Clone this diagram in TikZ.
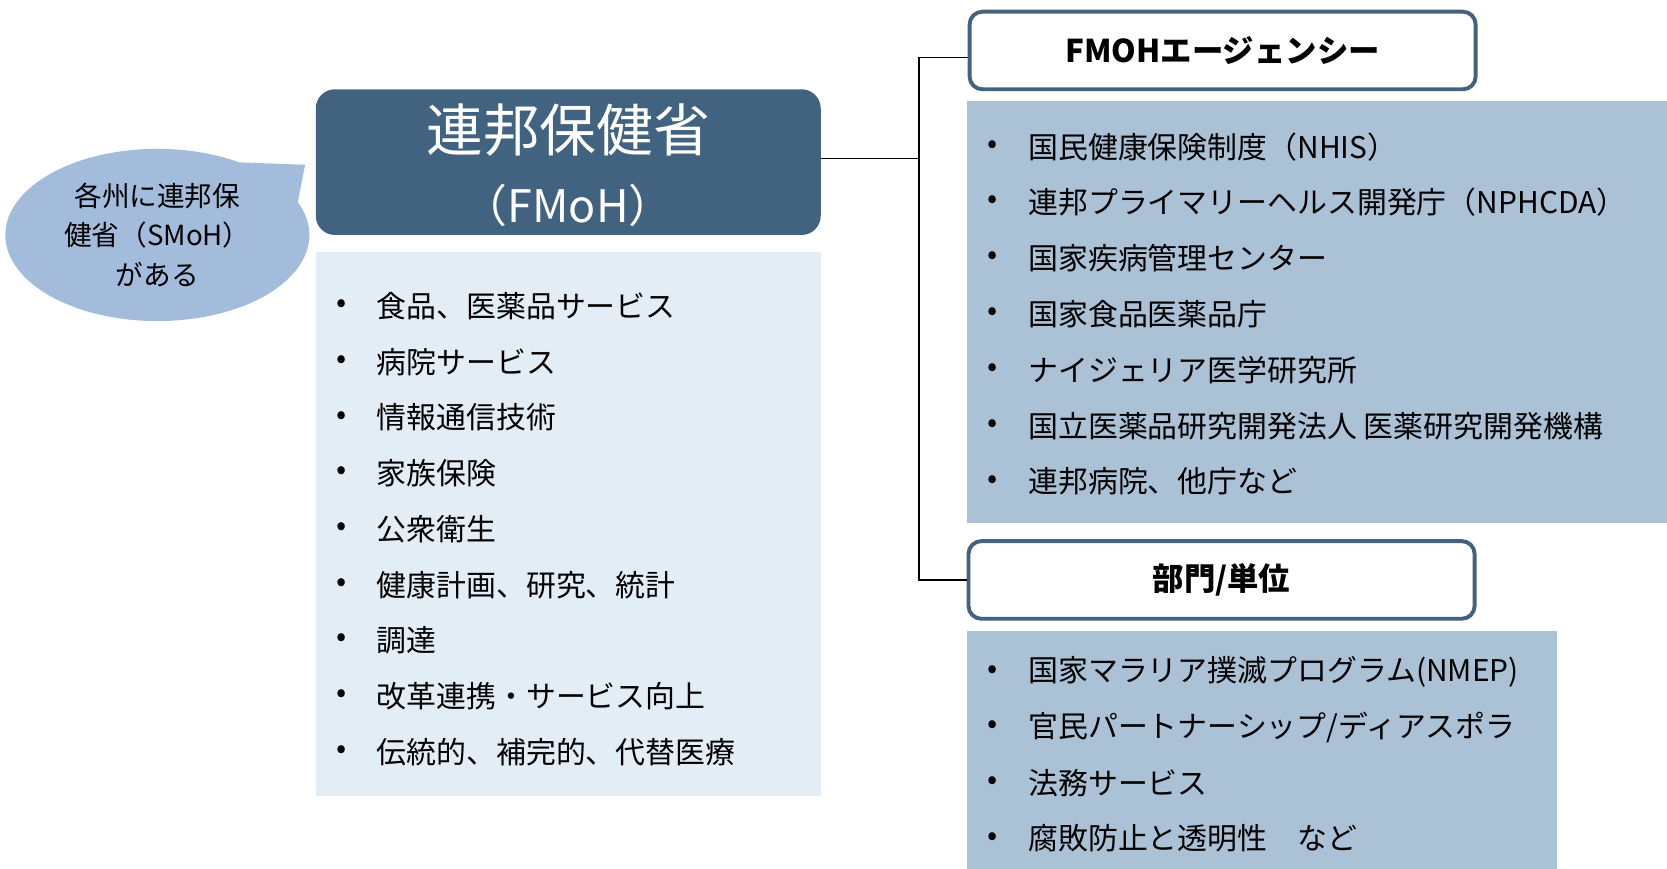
\documentclass[tikz,border=0pt]{standalone}
\usepackage{fontspec}
\setmainfont{Noto Sans CJK JP}
\usepackage{tikz}
\usetikzlibrary{shapes.callouts}

\definecolor{fmohblue}{RGB}{66,99,128}
\definecolor{svcblue}{RGB}{227,237,245}
\definecolor{agyblue}{RGB}{171,193,214}
\definecolor{bubblue}{RGB}{163,188,220}

\begin{document}
\begin{tikzpicture}[every node/.style={font=\fontsize{20}{24}\selectfont},
    listbox/.style={rectangle, anchor=north west, inner sep=0pt},
    hdr/.style={draw=fmohblue, line width=2.6pt, rounded corners=0.3cm, fill=white, minimum width=11.9cm, minimum height=1.825cm, font=\fontsize{21}{24}\selectfont\bfseries},
    bul/.style={inner sep=0pt},
    itm/.style={anchor=west, inner sep=0pt}]
    \useasboundingbox (0,0) rectangle (39.2,20.425);

    % Federal ministry
    \node[fill=fmohblue, rounded corners=0.45cm, minimum width=11.875cm, minimum height=3.425cm] (fmoh) at (13.3625,16.6125) {};
    \node[text=white, font=\fontsize{38}{40}\selectfont] (fmoh-title) at (13.3625,17.375) {連邦保健省};
    \node[text=white, font=\fontsize{30}{32}\selectfont] (fmoh-abbr) at (13.3625,15.6) {（FMoH）};

    % State ministries
    \node[ellipse callout, fill=bubblue, minimum width=7.15cm, minimum height=4.05cm, inner sep=0pt, callout absolute pointer={(7.175,16.55)}, callout pointer arc=35, align=center, font=\fontsize{18.5}{26.5}\selectfont] (smoh) at (3.7,14.9) {各州に連邦保\\健省（SMoH）\\がある};

    % Services of the ministry
    \node[listbox, fill=svcblue, minimum width=11.875cm, minimum height=12.775cm] (svc) at (7.425,14.5) {};
    \foreach \t [count=\i] in {食品、医薬品サービス, 病院サービス, 情報通信技術, 家族保険, 公衆衛生, 健康計画、研究、統計, 調達, 改革連携・サービス向上, 伝統的、補完的、代替医療} {
        \node[bul] (svc-b\i) at (8.025,13.225-1.31*\i+1.31) {•};
        \node[itm] (svc-t\i) at (8.85,13.225-1.31*\i+1.31) {\t};
    }

    % Agencies
    \node[hdr] (agy) at (28.75,19.2375) {FMOHエージェンシー};
    \node[listbox, fill=agyblue, minimum width=16.475cm, minimum height=9.925cm] (agy-list) at (22.725,18.05) {};
    \foreach \t [count=\i] in {国民健康保険制度（NHIS）, 連邦プライマリーヘルス開発庁（NPHCDA）, 国家疾病管理センター, 国家食品医薬品庁, ナイジェリア医学研究所, 国立医薬品研究開発法人 医薬研究開発機構, 連邦病院、他庁など} {
        \node[bul] (agy-b\i) at (23.35,16.975-1.3125*\i+1.3125) {•};
        \node[itm] (agy-t\i) at (24.175,16.975-1.3125*\i+1.3125) {\t};
    }

    % Departments / units
    \node[hdr] (dept) at (28.725,6.7875) {部門/単位};
    \node[listbox, fill=agyblue, minimum width=13.875cm, minimum height=5.6cm] (dept-list) at (22.725,5.6) {};
    \foreach \t [count=\i] in {国家マラリア撲滅プログラム(NMEP), 官民パートナーシップ/ディアスポラ, 法務サービス, 腐敗防止と透明性\quad など} {
        \node[bul] (dept-b\i) at (23.35,4.625-1.3075*\i+1.3075) {•};
        \node[itm] (dept-t\i) at (24.175,4.625-1.3075*\i+1.3075) {\t};
    }

    % Connectors
    \draw[line width=1pt] ([yshift=0.08cm]fmoh.east) -- ++(2.3,0) coordinate (hub);
    \draw[line width=1pt] ([yshift=-0.17cm]agy.west) -| (hub) |- (dept.west);
\end{tikzpicture}
\end{document}
